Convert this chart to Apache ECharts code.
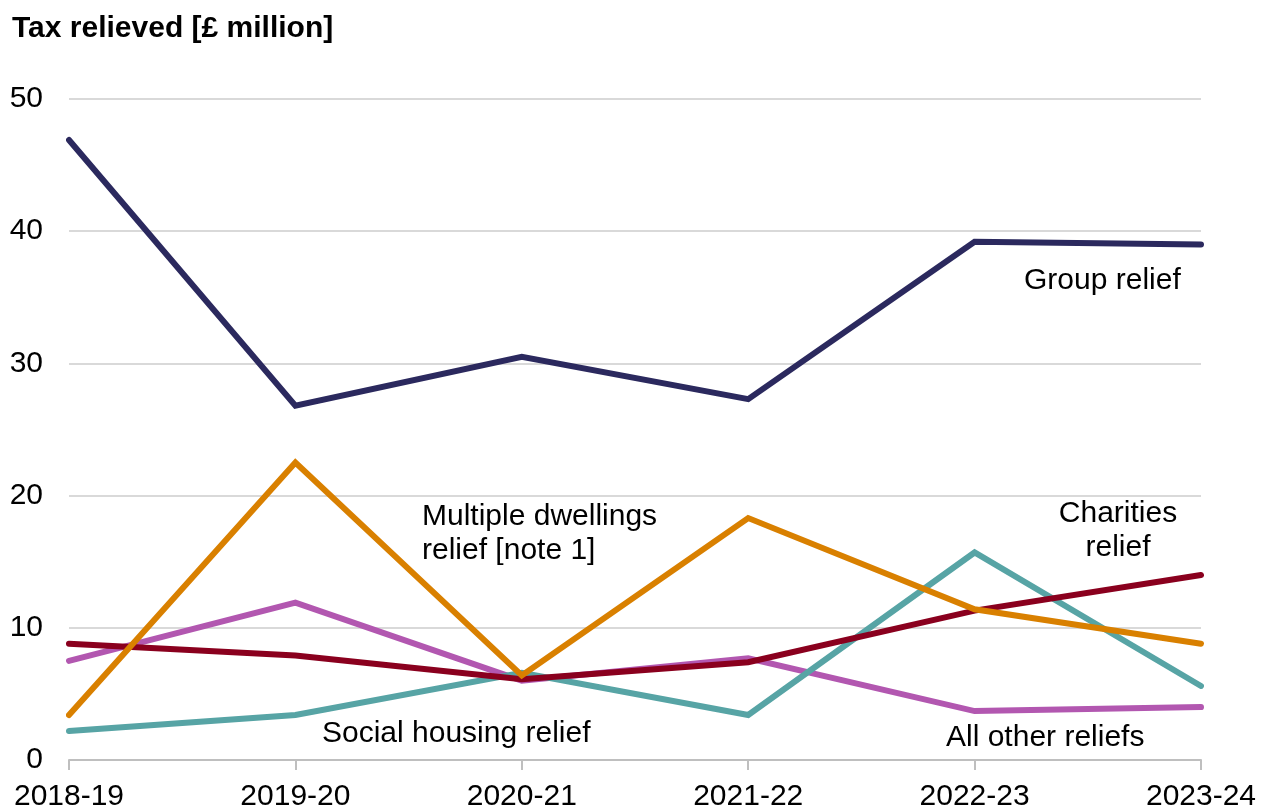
<!DOCTYPE html>
<html><head><meta charset="utf-8">
<script src="https://cdn.jsdelivr.net/npm/echarts@6/dist/echarts.min.js"></script>
<style>html,body{margin:0;padding:0;background:#fff}#c{width:1266px;height:812px}</style>
</head><body><div id="c"></div>
<script>
const categories = ['2018-19','2019-20','2020-21','2021-22','2022-23','2023-24'];
const groupRelief = [46.9, 26.8, 30.5, 27.3, 39.2, 39.0];
const multipleDwellings = [3.4, 22.5, 6.4, 18.3, 11.4, 8.8];
const charities = [8.8, 7.9, 6.1, 7.4, 11.3, 14.0];
const socialHousing = [2.2, 3.4, 6.6, 3.4, 15.7, 5.6];
const allOther = [7.5, 11.9, 6.0, 7.7, 3.7, 4.0];
const seriesNames = ['Group relief','Multiple dwellings relief [note 1]','Charities relief','Social housing relief','All other reliefs'];
const colors = ['#2b295e','#d98000','#8a001e','#57a4a5','#b257b0'];

const font = '"Liberation Sans", Arial, sans-serif';
const FS = 30;
const chart = echarts.init(document.getElementById('c'));
const data = [groupRelief, multipleDwellings, charities, socialHousing, allOther];
const txt = (text, x, yCenter, align, lines) => {
  const lh = 34; const n = lines || 1;
  return {type:'text', x:x, y:yCenter + 3 - lh*n/2, style:{text, fill:'#000', font: FS + 'px ' + font, align:align||'left', lineHeight:lh, verticalAlign:'top'}};
};
chart.setOption({
  animation:false,
  textStyle:{fontFamily:font},
  grid:{left:69, right:65, top:99, bottom:50},
  xAxis:{type:'category', data:categories, boundaryGap:false,
    axisLine:{lineStyle:{color:'#bfbfbf', width:2}},
    axisTick:{show:true, length:10, lineStyle:{color:'#bfbfbf', width:2}},
    axisLabel:{color:'#000', fontSize:FS, margin:22, fontFamily:font}},
  yAxis:{type:'value', min:0, max:50, interval:10,
    axisLine:{show:false}, axisTick:{show:false},
    splitLine:{lineStyle:{color:'#d9d9d9', width:2}},
    axisLabel:{color:'#000', fontSize:FS, margin:26, fontFamily:font}},
  series: data.map((d,i)=>({name:seriesNames[i], type:'line', data:d, symbol:'none',
    lineStyle:{color:colors[i], width:6, cap:'round', join:'miter'}, color:colors[i], z: 10 - i})),
  graphic:[
    {type:'text', x:12, y:14, style:{text:'Tax relieved [£ million]', fill:'#000', font:'bold 30px ' + font, verticalAlign:'top'}},
    txt('Group relief', 1024, 278),
    txt('Multiple dwellings\nrelief [note 1]', 422, 531, 'left', 2),
    txt('Charities\nrelief', 1118, 528, 'center', 2),
    txt('Social housing relief', 322, 731),
    txt('All other reliefs', 946, 735)
  ]
});
</script></body></html>
